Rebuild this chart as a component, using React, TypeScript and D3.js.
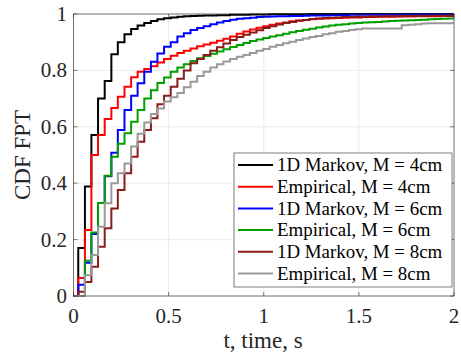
import React from "react";
import * as d3 from "d3";

// Step times (s) of the empirical/model CDFs
const stepTimes = [
  0.025, 0.060, 0.094, 0.129, 0.164, 0.199, 0.233, 0.268, 0.303, 0.337,
  0.372, 0.407, 0.441, 0.476, 0.511, 0.546, 0.580, 0.615, 0.650, 0.684,
  0.719, 0.754, 0.788, 0.823, 0.858, 0.893, 0.927, 0.962, 0.997, 1.031,
  1.066, 1.101, 1.135, 1.170, 1.205, 1.240, 1.274, 1.309, 1.344, 1.378,
  1.413, 1.448, 1.482, 1.517, 1.552, 1.587, 1.621, 1.656, 1.691, 1.725,
  1.760, 1.795, 1.829, 1.864, 1.899, 1.934, 1.968, 2.003,
];

const markov4 = [
  0.17, 0.388, 0.571, 0.70, 0.762, 0.857, 0.90, 0.928, 0.947, 0.959,
  0.968, 0.975, 0.981, 0.985, 0.988, 0.99, 0.992, 0.993, 0.994, 0.995,
  0.995, 0.996, 0.996, 0.997, 0.997, 0.997, 0.998, 0.998, 0.998, 0.999,
  0.999, 0.999, 0.999, 0.999, 0.999, 1, 1, 1, 1, 1,
  1, 1, 1, 1, 1, 1, 1, 1, 1, 1,
  1, 1, 1, 1, 1, 1, 1, 1,
];

const empirical4 = [
  0.064, 0.234, 0.50, 0.571, 0.628, 0.667, 0.707, 0.742, 0.776, 0.795,
  0.805, 0.815, 0.828, 0.84, 0.852, 0.862, 0.87, 0.878, 0.886, 0.892,
  0.898, 0.905, 0.912, 0.92, 0.93, 0.938, 0.945, 0.951, 0.957, 0.962,
  0.966, 0.97, 0.974, 0.977, 0.979, 0.981, 0.983, 0.984, 0.985, 0.986,
  0.987, 0.988, 0.988, 0.989, 0.989, 0.99, 0.99, 0.99, 0.991, 0.991,
  0.991, 0.992, 0.992, 0.992, 0.992, 0.993, 0.993, 0.993,
];

const markov6 = [
  0.04, 0.118, 0.22, 0.33, 0.425, 0.508, 0.589, 0.66, 0.71, 0.754,
  0.795, 0.831, 0.86, 0.884, 0.90, 0.92, 0.932, 0.943, 0.95, 0.957,
  0.964, 0.97, 0.975, 0.98, 0.983, 0.985, 0.987, 0.989, 0.99, 0.991,
  0.992, 0.992, 0.993, 0.993, 0.994, 0.995, 0.995, 0.995, 0.996, 0.996,
  0.996, 0.997, 0.997, 0.997, 0.997, 0.997, 0.997, 0.997, 0.997, 0.998,
  0.998, 0.998, 0.998, 0.998, 0.998, 0.998, 0.998, 0.998,
];

const empirical6 = [
  0, 0.125, 0.225, 0.33, 0.426, 0.494, 0.54, 0.577, 0.618, 0.66,
  0.70, 0.73, 0.755, 0.775, 0.795, 0.81, 0.822, 0.833, 0.843, 0.851,
  0.859, 0.867, 0.875, 0.883, 0.89, 0.897, 0.904, 0.91, 0.915, 0.92,
  0.925, 0.93, 0.935, 0.94, 0.944, 0.948, 0.952, 0.956, 0.959, 0.962,
  0.964, 0.966, 0.968, 0.97, 0.971, 0.972, 0.973, 0.975, 0.976, 0.977,
  0.978, 0.979, 0.98, 0.981, 0.982, 0.983, 0.984, 0.984,
];

const markov8 = [
  0.015, 0.05, 0.104, 0.175, 0.24, 0.31, 0.376, 0.435, 0.494, 0.547,
  0.589, 0.63, 0.68, 0.71, 0.742, 0.77, 0.80, 0.825, 0.84, 0.855,
  0.87, 0.882, 0.895, 0.908, 0.918, 0.926, 0.934, 0.942, 0.95, 0.957,
  0.963, 0.968, 0.972, 0.976, 0.979, 0.982, 0.984, 0.986, 0.987, 0.988,
  0.989, 0.989, 0.99, 0.99, 0.991, 0.991, 0.992, 0.992, 0.992, 0.993,
  0.993, 0.993, 0.993, 0.994, 0.994, 0.994, 0.994, 0.994,
];

const empirical8 = [
  0, 0.074, 0.145, 0.246, 0.329, 0.40, 0.435, 0.47, 0.53, 0.575,
  0.615, 0.645, 0.665, 0.69, 0.705, 0.72, 0.74, 0.76, 0.78, 0.795,
  0.81, 0.822, 0.832, 0.84, 0.848, 0.855, 0.862, 0.87, 0.876, 0.884,
  0.89, 0.896, 0.902, 0.908, 0.913, 0.918, 0.922, 0.928, 0.932, 0.937,
  0.94, 0.943, 0.946, 0.949, 0.949, 0.949, 0.949, 0.949, 0.949, 0.96,
  0.962, 0.964, 0.966, 0.967, 0.967, 0.967, 0.967, 0.967,
];

const seriesNames = [
  "1D Markov, M = 4cm",
  "Empirical, M = 4cm",
  "1D Markov, M = 6cm",
  "Empirical, M = 6cm",
  "1D Markov, M = 8cm",
  "Empirical, M = 8cm",
];
const seriesValues = [markov4, empirical4, markov6, empirical6, markov8, empirical8];
const seriesColors = ["#000000", "#ff0000", "#0000ff", "#00a000", "#8b1a1a", "#999999"];

const xTicks = [0, 0.5, 1, 1.5, 2];
const yTicks = [0, 0.2, 0.4, 0.6, 0.8, 1];

const W = 461;
const H = 354;
const M = { left: 73.5, right: 454, top: 14, bottom: 296 };
const AXIS = "#262626";
const FONT = "'Liberation Serif', 'Times New Roman', serif";

export default function App() {
  const x = d3.scaleLinear().domain([0, 2]).range([M.left, M.right]);
  const y = d3.scaleLinear().domain([0, 1]).range([M.bottom, M.top]);

  const line = d3
    .line<[number, number]>()
    .x((d) => x(Math.min(d[0], 2)))
    .y((d) => y(d[1]))
    .curve(d3.curveStepAfter);

  const paths = seriesValues.map((vals) => {
    const pts: [number, number][] = [[0, 0]];
    vals.forEach((v, i) => pts.push([stepTimes[i], v]));
    return line(pts) || "";
  });

  const tickLen = 4;
  const legX = 234;
  const legY = 153;
  const legW = 218;
  const legH = 134;
  const rowH = 21.7;

  return (
    <svg
      width={W}
      height={H}
      style={{ position: "fixed", left: 0, top: 0, background: "#fff" }}
      fontFamily={FONT}
    >
      <rect x={0} y={0} width={W} height={H} fill="#fff" />
      {/* grid */}
      {xTicks.map((t) => (
        <line key={"gx" + t} x1={x(t)} x2={x(t)} y1={M.top} y2={M.bottom} stroke="#e3e3e3" strokeWidth={0.7} />
      ))}
      {yTicks.map((t) => (
        <line key={"gy" + t} x1={M.left} x2={M.right} y1={y(t)} y2={y(t)} stroke="#e3e3e3" strokeWidth={0.7} />
      ))}
      {/* data */}
      <clipPath id="plotclip">
        <rect x={M.left} y={M.top - 3} width={M.right - M.left} height={M.bottom - M.top + 6} />
      </clipPath>
      <g clipPath="url(#plotclip)">
        {paths.map((d, i) => (
          <path key={i} d={d} fill="none" stroke={seriesColors[i]} strokeWidth={2} strokeLinejoin="miter" />
        ))}
      </g>
      {/* box */}
      <rect x={M.left} y={M.top} width={M.right - M.left} height={M.bottom - M.top} fill="none" stroke={AXIS} strokeWidth={0.6} />
      {/* ticks */}
      {xTicks.map((t) => (
        <g key={"tx" + t}>
          <line x1={x(t)} x2={x(t)} y1={M.bottom} y2={M.bottom - tickLen} stroke={AXIS} strokeWidth={0.6} />
          <line x1={x(t)} x2={x(t)} y1={M.top} y2={M.top + tickLen} stroke={AXIS} strokeWidth={0.6} />
          <text x={x(t)} y={323} textAnchor="middle" fontSize={21} fill={AXIS}>
            {String(t)}
          </text>
        </g>
      ))}
      {yTicks.map((t) => (
        <g key={"ty" + t}>
          <line x1={M.left} x2={M.left + tickLen} y1={y(t)} y2={y(t)} stroke={AXIS} strokeWidth={0.6} />
          <line x1={M.right} x2={M.right - tickLen} y1={y(t)} y2={y(t)} stroke={AXIS} strokeWidth={0.6} />
          <text x={67} y={y(t) + 7} textAnchor="end" fontSize={21} fill={AXIS}>
            {String(t)}
          </text>
        </g>
      ))}
      {/* axis labels */}
      <text x={263} y={348} textAnchor="middle" fontSize={23} fill={AXIS}>
        t, time, s
      </text>
      <text transform={`translate(30, ${(M.top + M.bottom) / 2}) rotate(-90)`} textAnchor="middle" fontSize={23} fill={AXIS}>
        CDF FPT
      </text>
      {/* legend */}
      <rect x={legX} y={legY} width={legW} height={legH} fill="#fff" stroke={AXIS} strokeWidth={0.6} />
      {seriesNames.map((name, i) => {
        const cy = legY + 12 + i * rowH;
        return (
          <g key={name}>
            <line x1={238} x2={273} y1={cy} y2={cy} stroke={seriesColors[i]} strokeWidth={2} />
            <text x={277} y={cy + 6.3} fontSize={18.9} fill="#000">
              {name}
            </text>
          </g>
        );
      })}
    </svg>
  );
}
